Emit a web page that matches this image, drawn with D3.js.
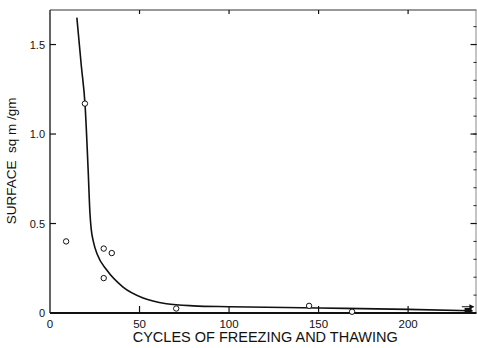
<!DOCTYPE html>
<html>
<head>
<meta charset="utf-8">
<script src="https://cdn.jsdelivr.net/npm/d3@7"></script>
<style>
  body { margin: 0; background: #fff; }
  text { font-family: "Liberation Sans", Arial, sans-serif; fill: #111; }
</style>
</head>
<body>
<div id="chart"></div>
<script>
"use strict";
// points mesurés (cercles ouverts)
const cyclesObs = [9, 19.5, 30, 34.5, 30, 70.5, 144.7, 168.7];
const surfaceObs = [0.40, 1.17, 0.36, 0.335, 0.195, 0.025, 0.04, 0.007];
// point final (carré plein) + flèche
const lastPoint = {cycles: 233.5, surface: 0.0};
// courbe ajustée
const curveCycles = [15, 17.5, 19.6, 21.3, 22.3, 23.0, 24.2, 26.5, 31.7, 40.8, 52, 65, 80, 100, 150, 200, 236];
const curveSurface = [1.65, 1.38, 1.16, 0.8, 0.56, 0.47, 0.4, 0.325, 0.24, 0.145, 0.084, 0.052, 0.04, 0.035, 0.028, 0.02, 0.012];
const xTicks = [0, 50, 100, 150, 200];
const yTicks = [0, 0.5, 1.0, 1.5];
const yTickLabels = ["0", "0.5", "1.0", "1.5"];

const W = 477, H = 348;
const m = {left: 50, right: 0.5, top: 10, bottom: 35};
const svg = d3.select("#chart").append("svg").attr("width", W).attr("height", H);

const x = d3.scaleLinear().domain([0, 238.2]).range([m.left, W - m.right]);
const y = d3.scaleLinear().domain([0, 1.693]).range([H - m.bottom, m.top]);

const g = svg.append("g");
// cadre
g.append("line").attr("x1", x(0)).attr("x2", x(0)).attr("y1", y(0)).attr("y2", y.range()[1])
  .attr("stroke", "#111").attr("stroke-width", 1.3);
g.append("line").attr("x1", x(0)).attr("x2", x.range()[1]).attr("y1", y.range()[1]).attr("y2", y.range()[1])
  .attr("stroke", "#333").attr("stroke-width", 1);
g.append("line").attr("x1", x.range()[1] - 0.5).attr("x2", x.range()[1] - 0.5).attr("y1", y.range()[1]).attr("y2", y(0))
  .attr("stroke", "#888").attr("stroke-width", 1);
g.append("line").attr("x1", x(0)).attr("x2", x.range()[1]).attr("y1", y(0)).attr("y2", y(0))
  .attr("stroke", "#111").attr("stroke-width", 2);

// ticks y (gauche et droite)
const yMinor = d3.range(0.1, 1.65, 0.1);
g.selectAll(".ymin").data(yMinor).enter().append("line")
  .attr("x1", x.range()[1] - 3).attr("x2", x.range()[1])
  .attr("y1", d => y(d)).attr("y2", d => y(d)).attr("stroke", "#222");
g.selectAll(".ymaj").data(yTicks.slice(1)).enter().append("line")
  .attr("x1", x(0)).attr("x2", x(0) + 6)
  .attr("y1", d => y(d)).attr("y2", d => y(d)).attr("stroke", "#111").attr("stroke-width", 1.2);
g.selectAll(".ymajr").data(yTicks.slice(1)).enter().append("line")
  .attr("x1", x.range()[1] - 6).attr("x2", x.range()[1])
  .attr("y1", d => y(d)).attr("y2", d => y(d)).attr("stroke", "#111").attr("stroke-width", 1.2);
g.selectAll(".ylab").data(yTicks).enter().append("text")
  .attr("x", x(0) - 5).attr("y", d => y(d) + 4)
  .attr("text-anchor", "end").attr("font-size", 11)
  .text((d, i) => yTickLabels[i]);

// ticks x (bas et haut)
g.selectAll(".xmaj").data(xTicks.slice(1)).enter().append("line")
  .attr("x1", d => x(d)).attr("x2", d => x(d))
  .attr("y1", y(0)).attr("y2", y(0) - 7).attr("stroke", "#111").attr("stroke-width", 1.2);
g.selectAll(".xtop").data(xTicks.slice(1)).enter().append("line")
  .attr("x1", d => x(d)).attr("x2", d => x(d))
  .attr("y1", y.range()[1]).attr("y2", y.range()[1] + 4).attr("stroke", "#111").attr("stroke-width", 1.2);
g.selectAll(".xlab").data(xTicks).enter().append("text")
  .attr("x", d => x(d)).attr("y", y(0) + 15)
  .attr("text-anchor", "middle").attr("font-size", 11.5)
  .text(d => d);

// titres des axes
svg.append("text").attr("x", (x(0) + x.range()[1]) / 2 + 2).attr("y", H - 6)
  .attr("text-anchor", "middle").attr("font-size", 14.5)
  .text("CYCLES OF FREEZING AND THAWING");
svg.append("text").attr("transform", `translate(16,${y(0.85)}) rotate(-90)`)
  .attr("text-anchor", "middle").attr("font-size", 13.5)
  .attr("xml:space", "preserve")
  .text("SURFACE  sq m /gm");

// courbe
const line = d3.line().x((d, i) => x(curveCycles[i])).y(d => y(d)).curve(d3.curveMonotoneX);
g.append("path").datum(curveSurface).attr("d", line)
  .attr("fill", "none").attr("stroke", "#111").attr("stroke-width", 1.6);

// points
g.selectAll(".pt").data(cyclesObs).enter().append("circle")
  .attr("cx", d => x(d)).attr("cy", (d, i) => y(surfaceObs[i]))
  .attr("r", 2.7).attr("fill", "#fff").attr("stroke", "#111").attr("stroke-width", 1);

// carré plein + flèche
g.append("rect").attr("x", x(lastPoint.cycles) - 3.5).attr("y", y(lastPoint.surface) - 5)
  .attr("width", 7).attr("height", 6).attr("fill", "#111");
g.append("line").attr("x1", x(lastPoint.cycles - 3.5)).attr("x2", x(lastPoint.cycles + 3))
  .attr("y1", y(0.035)).attr("y2", y(0.035)).attr("stroke", "#111").attr("stroke-width", 1);
g.append("path")
  .attr("d", `M${x(lastPoint.cycles + 3.5)},${y(0.035)} l-5,-2.5 l0,5 z`).attr("fill", "#111");
</script>
</body>
</html>
